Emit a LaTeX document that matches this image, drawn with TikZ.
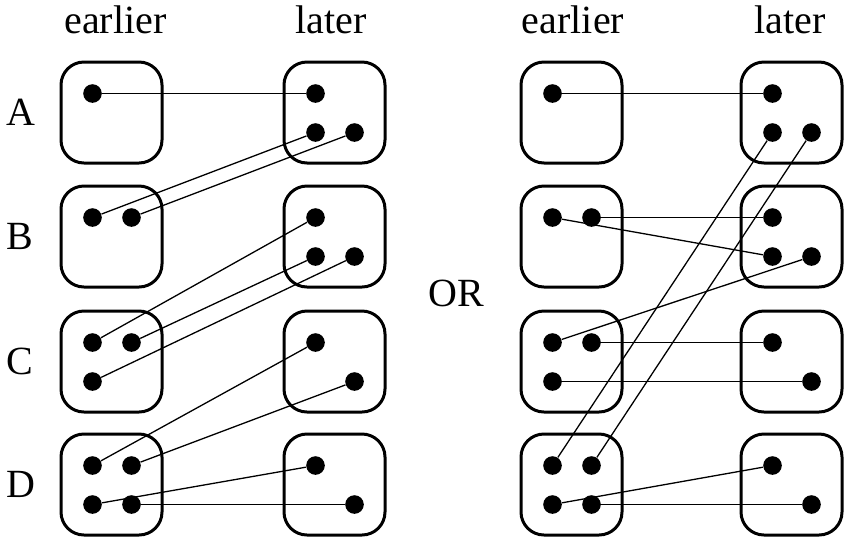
\documentclass[tikz,border=0pt]{standalone}
\usepackage{fontspec}
\setmainfont{Liberation Serif}
\usetikzlibrary{positioning}

\begin{document}
\begin{tikzpicture}[x=0.5pt, y=-0.5pt,
	box/.style={line width=1.5pt, rounded corners=11.5pt},
	dot/.style={circle, fill=black, inner sep=0pt, minimum size=9.3pt},
	link/.style={line width=0.65pt},
	lbl/.style={font=\fontsize{20}{24}\selectfont, inner sep=0pt}]

	\useasboundingbox (0,0) rectangle (846,537);

	% Size of a box and the place of its dots
	\def\bs{101}
	\def\da{31.5}
	\def\db{70.5}

	% Top of each row, left side of each column
	\def\rA{62} \def\rB{186} \def\rC{311} \def\rD{434}
	\def\cLe{61} \def\cLl{284} \def\cRe{521} \def\cRl{741}

	% Draw the boxes
	\foreach \x in {\cLe,\cLl,\cRe,\cRl}
		\foreach \y in {\rA,\rB,\rC,\rD}
			\draw[box] (\x,\y) rectangle ++(\bs,\bs);

	% Dots, the same in both panels
	\foreach \s/\e/\l in {L/\cLe/\cLl, R/\cRe/\cRl} {
		\node[dot] (\s Ae1) at (\e+\da,\rA+\da) {};
		\node[dot] (\s Al1) at (\l+\da,\rA+\da) {};
		\node[dot] (\s Al3) at (\l+\da,\rA+\db) {};
		\node[dot] (\s Al4) at (\l+\db,\rA+\db) {};

		\node[dot] (\s Be1) at (\e+\da,\rB+\da) {};
		\node[dot] (\s Be2) at (\e+\db,\rB+\da) {};
		\node[dot] (\s Bl1) at (\l+\da,\rB+\da) {};
		\node[dot] (\s Bl3) at (\l+\da,\rB+\db) {};
		\node[dot] (\s Bl4) at (\l+\db,\rB+\db) {};

		\node[dot] (\s Ce1) at (\e+\da,\rC+\da) {};
		\node[dot] (\s Ce2) at (\e+\db,\rC+\da) {};
		\node[dot] (\s Ce3) at (\e+\da,\rC+\db) {};
		\node[dot] (\s Cl1) at (\l+\da,\rC+\da) {};
		\node[dot] (\s Cl4) at (\l+\db,\rC+\db) {};

		\node[dot] (\s De1) at (\e+\da,\rD+\da) {};
		\node[dot] (\s De2) at (\e+\db,\rD+\da) {};
		\node[dot] (\s De3) at (\e+\da,\rD+\db) {};
		\node[dot] (\s De4) at (\e+\db,\rD+\db) {};
		\node[dot] (\s Dl1) at (\l+\da,\rD+\da) {};
		\node[dot] (\s Dl4) at (\l+\db,\rD+\db) {};
	}

	% Links of the left panel
	\draw[link] (LAe1) -- (LAl1);
	\draw[link] (LBe1) -- (LAl3);
	\draw[link] (LBe2) -- (LAl4);
	\draw[link] (LCe1) -- (LBl1);
	\draw[link] (LCe2) -- (LBl3);
	\draw[link] (LCe3) -- (LBl4);
	\draw[link] (LDe1) -- (LCl1);
	\draw[link] (LDe2) -- (LCl4);
	\draw[link] (LDe3) -- (LDl1);
	\draw[link] (LDe4) -- (LDl4);

	% Links of the right panel
	\draw[link] (RAe1) -- (RAl1);
	\draw[link] (RDe1) -- (RAl3);
	\draw[link] (RDe2) -- (RAl4);
	\draw[link] (RBe2) -- (RBl1);
	\draw[link] (RBe1) -- (RBl3);
	\draw[link] (RCe1) -- (RBl4);
	\draw[link] (RCe2) -- (RCl1);
	\draw[link] (RCe3) -- (RCl4);
	\draw[link] (RDe3) -- (RDl1);
	\draw[link] (RDe4) -- (RDl4);

	% Labels
	\node[lbl, anchor=base] (tLe) at (115.5,33) {earlier};
	\node[lbl, anchor=base] (tLl) at (331,33) {later};
	\node[lbl, anchor=base] (tRe) at (573,33) {earlier};
	\node[lbl, anchor=base] (tRl) at (790,33) {later};
	\node[lbl, anchor=west] (tA) at (6,\rA+50.5) {A};
	\node[lbl, anchor=west] (tB) at (6,\rB+50.5) {B};
	\node[lbl, anchor=west] (tC) at (6,\rC+50.5) {C};
	\node[lbl, anchor=west] (tD) at (6,\rD+50.5) {D};
	\node[lbl] (tOr) at (456,293) {OR};

\end{tikzpicture}
\end{document}
